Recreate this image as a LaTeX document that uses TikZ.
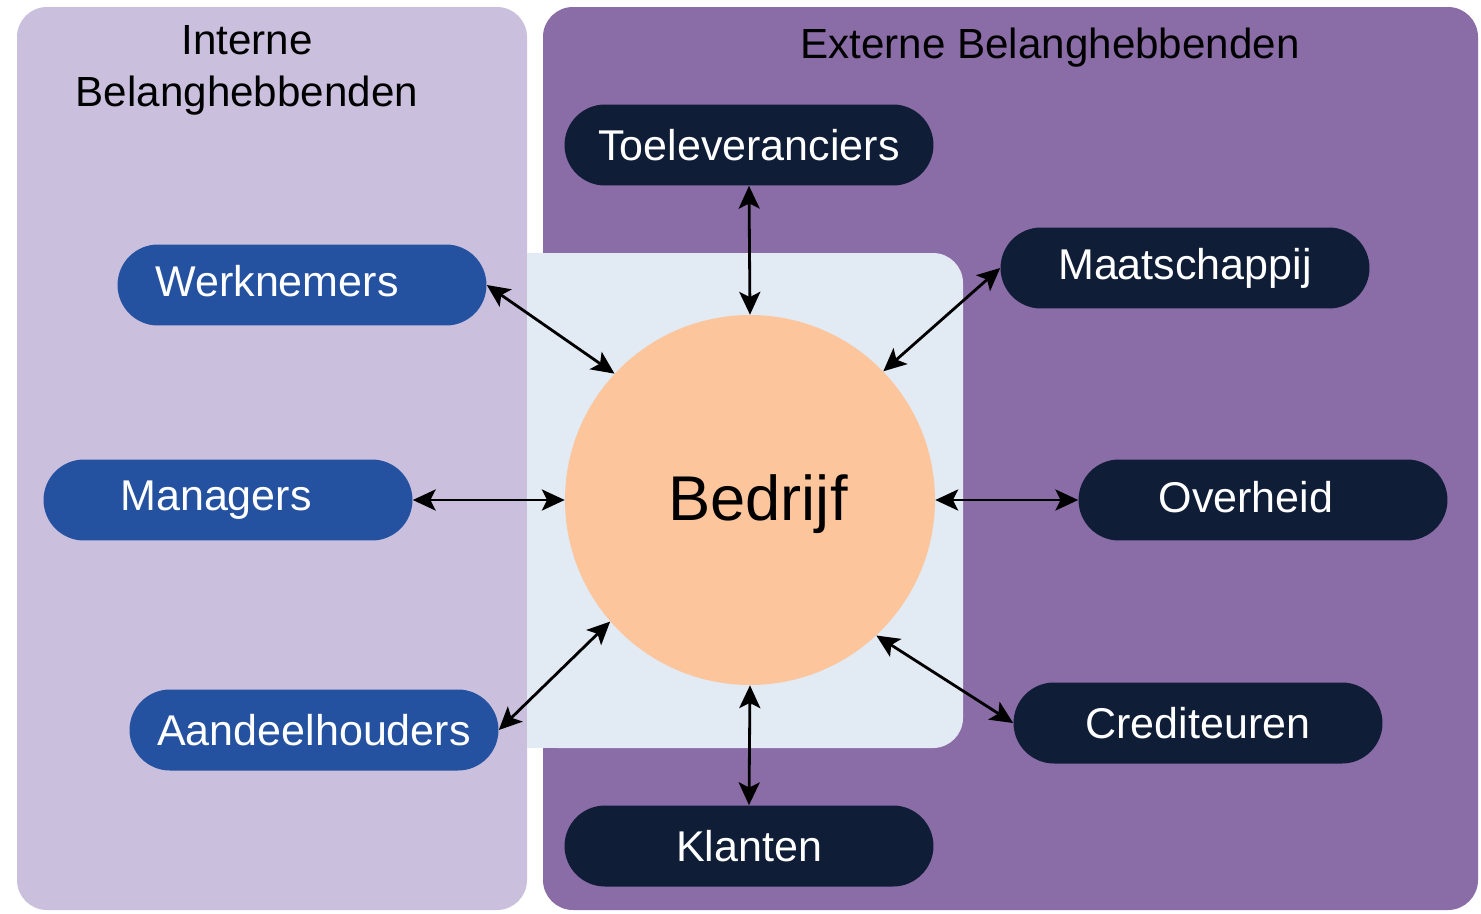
\documentclass[tikz,border=0pt]{standalone}
\usepackage{fontspec}
\setmainfont{Liberation Sans}
\usetikzlibrary{shapes.misc,arrows.meta}
\definecolor{leftpanel}{HTML}{CABFDD}
\definecolor{rightpanel}{HTML}{8A6CA6}
\definecolor{lightbg}{HTML}{E2EAF3}
\definecolor{circlefill}{HTML}{FDC59B}
\definecolor{bluepill}{HTML}{2451A0}
\definecolor{darkpill}{HTML}{0F1D37}
\tikzset{
  pill/.style={rounded rectangle, minimum width=7.38cm, minimum height=1.62cm,
    inner sep=0pt, text=white, font=\fontsize{24.5}{29}\selectfont},
  intern/.style={pill, fill=bluepill},
  extern/.style={pill, fill=darkpill},
  tip/.style={Stealth[length=13pt,width=12pt,inset=3pt]},
  link/.style={line width=1.6pt, black, {Stealth[length=13pt,width=12pt,inset=3pt]}-{Stealth[length=13pt,width=12pt,inset=3pt]}},
  header/.style={align=center, font=\fontsize{24}{29.6}\selectfont, text=black}
}
\begin{document}
\begin{tikzpicture}[x=0.02cm,y=-0.02cm]
\useasboundingbox (0,0) rectangle (1481,913);
\fill[white] (0,0) rectangle (1481,913);
% panels
\fill[leftpanel, rounded corners=0.6cm] (17,7) rectangle (527,910);
\fill[rightpanel, rounded corners=0.6cm] (543,7) rectangle (1478,910);
\fill[lightbg, rounded corners=0.6cm] (527,253) rectangle (963,748);
\fill[lightbg] (527,253) rectangle (640,748);
% headers
\node[header] (hint) at (247,70) {Interne\\Belanghebbenden};
\node[header] (hext) at (1050,48) {Externe Belanghebbenden};
% centre
\node[circle, fill=circlefill, minimum size=7.4cm, inner sep=0pt] (bedrijf) at (750,500) {};
\node[font=\fontsize{36}{40}\selectfont] (bedrijftxt) at (758,504) {Bedrijf};
% stakeholders
\node[extern] (toel) at (749,145) {Toeleveranciers};
\node[intern] (werk) at (302,285) {\raisebox{5pt}{Werknemers}\kern1cm};
\node[extern] (maat) at (1185,268) {\raisebox{4pt}{Maatschappij}};
\node[intern] (man) at (228,500) {Managers\kern0.48cm};
\node[extern] (over) at (1263,500) {\raisebox{3pt}{Overheid}\kern0.68cm};
\node[intern] (aand) at (314,730) {Aandeelhouders};
\node[extern] (cred) at (1198,723) {Crediteuren};
\node[extern] (klan) at (749,846) {Klanten};
% connectors
\draw[link] (toel.south) -- (bedrijf.north);
\draw[link] (werk.east) -- (bedrijf.137);
\draw[link] (maat.west) -- (bedrijf.44);
\draw[link] (man.east) -- (bedrijf.west);
\draw[link] (bedrijf.east) -- (over.west);
\draw[link] (aand.east) -- (bedrijf.221);
\draw[link] (bedrijf.313) -- (cred.west);
\draw[link] (bedrijf.south) -- (klan.north);
\end{tikzpicture}
\end{document}
